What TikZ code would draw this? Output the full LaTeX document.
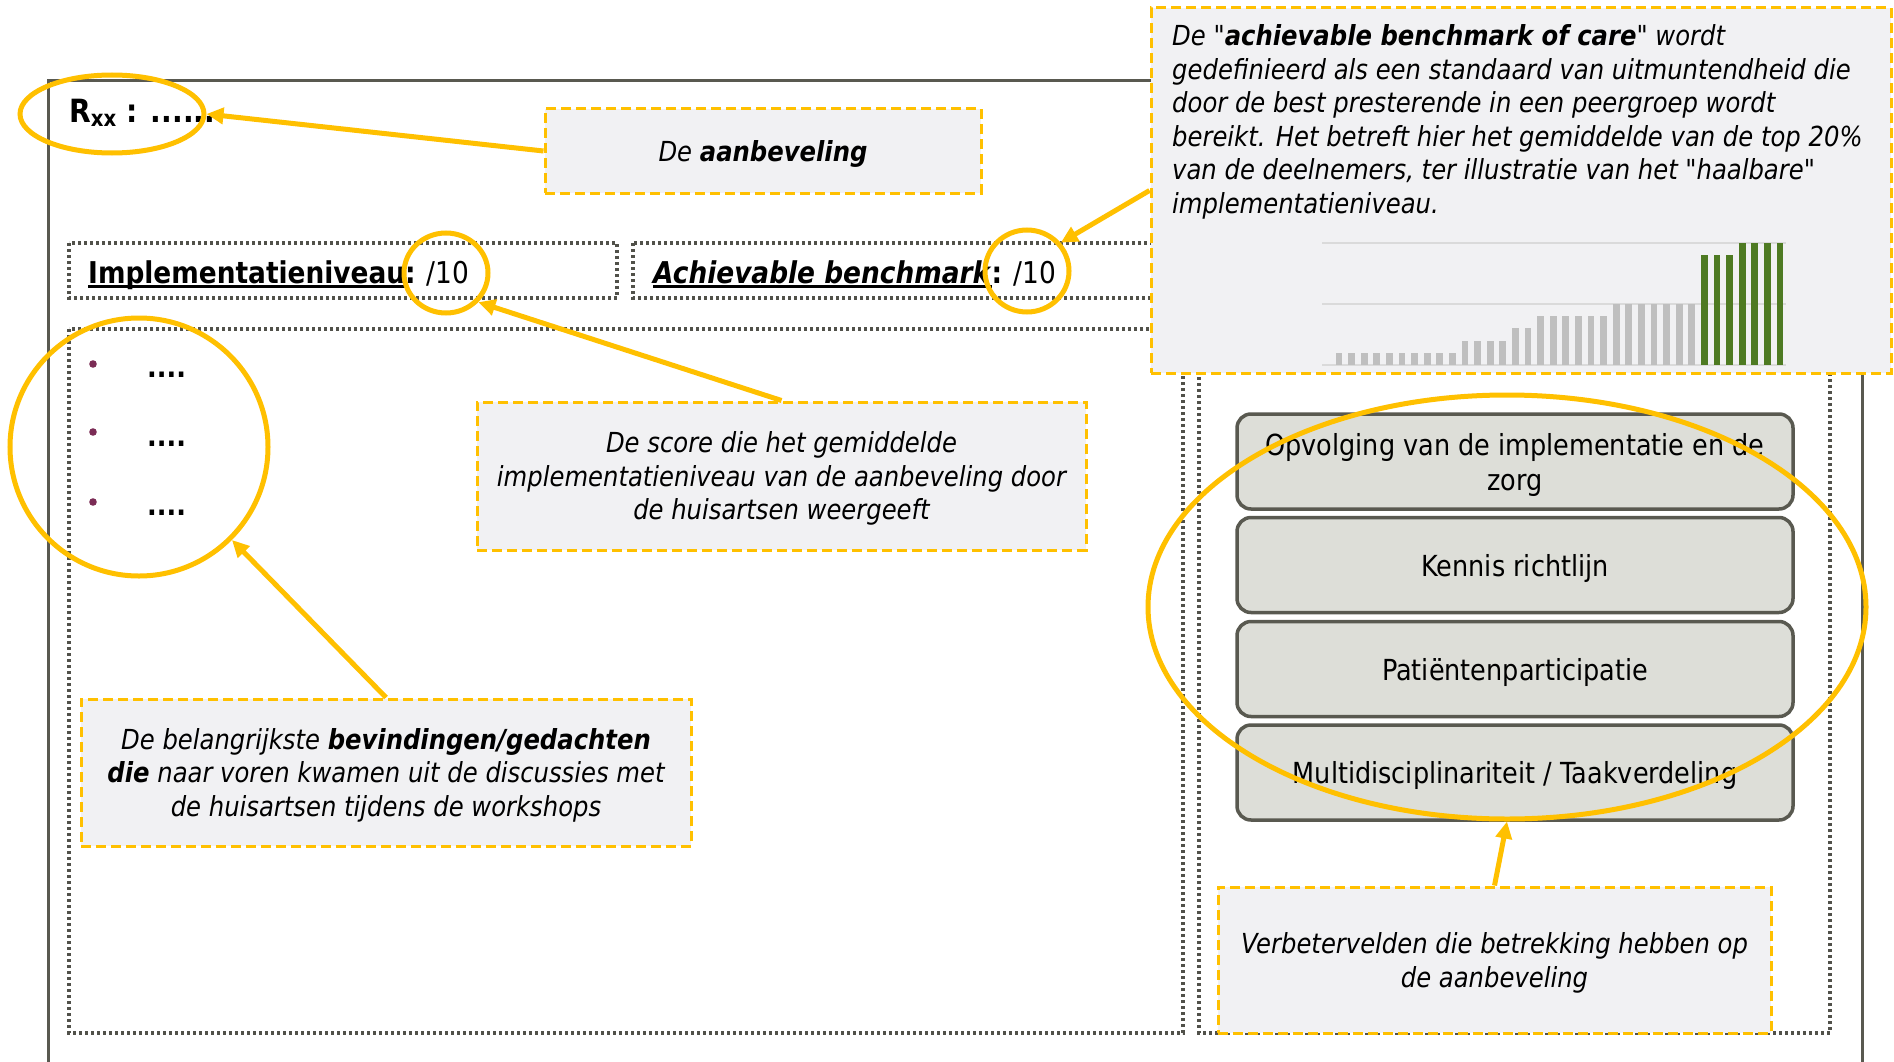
\documentclass[tikz,border=0pt]{standalone}
\usepackage{fontspec}
\setmainfont{DejaVu Sans}[FakeStretch=0.88, Ligatures=TeXOff]
\usetikzlibrary{arrows.meta,shapes.geometric}

\definecolor{gold}{HTML}{FFC000}
\definecolor{framegray}{HTML}{595950}
\definecolor{dotgray}{HTML}{51514A}
\definecolor{calloutfill}{HTML}{F1F1F3}
\definecolor{boxfill}{HTML}{DDDED8}
\definecolor{bargray}{HTML}{BFBFBF}
\definecolor{bargreen}{HTML}{4E7A22}
\definecolor{gridgray}{HTML}{DADADA}
\definecolor{bulletc}{HTML}{7B2C55}

\newcommand\calloutfont{\fontsize{27.6}{33.5}\selectfont\itshape}
\newcommand\areafont{\fontsize{29}{35}\selectfont}
\newcommand\headfont{\fontsize{30}{35}\selectfont}
\newcommand\ulword[1]{\setbox0\hbox{#1}\rlap{\rule[-4.5pt]{\wd0}{2.4pt}}\box0}

\tikzset{
  callout/.style={draw=gold, line width=3pt, dash pattern=on 10pt off 5pt,
    fill=calloutfill, inner sep=0pt, align=center, font=\calloutfont, text depth=0pt},
  dotbox/.style={draw=dotgray, line width=3.2pt, dash pattern=on 3pt off 3pt},
  areabox/.style={draw=framegray, line width=3.5pt, rounded corners=14pt,
    fill=boxfill, minimum width=556pt, minimum height=95pt, align=center,
    font=\areafont, inner sep=0pt, text depth=0pt},
  ring/.style={draw=gold, line width=5pt, ellipse, inner sep=0pt},
  pointer/.style={draw=gold, line width=5pt, -{Triangle[length=17pt,width=16pt]}},
  dots/.style={anchor=base west, inner sep=0pt, font=\areafont\bfseries},
}

\begin{document}
\begin{tikzpicture}[x=1pt, y=-1pt]
\useasboundingbox (0,0) rectangle (1894,1062);
\fill[white] (0,0) rectangle (1894,1062);

% outer frame, open at the bottom
\draw[framegray, line width=3pt] (48,1062) -- (48,81) -- (1862,81) -- (1862,1062);

% dotted panels
\draw[dotbox] (69,243) rectangle (617,298);
\draw[dotbox] (633,243) rectangle (1153,298);
\draw[dotbox] (69,329) rectangle (1183,1033);
\draw[dotbox] (1199,329) rectangle (1830,1033);

% title line
\node[anchor=base west, inner sep=0pt] (rtitle) at (69,123)
  {\fontsize{32}{38}\selectfont\bfseries R\textsubscript{xx} : ......};

% score headings
\node[anchor=base west, inner sep=0pt, font=\headfont] (impltxt) at (88,283)
  {\ulword{\textbf{Implementatieniveau}}\textbf{:} /10};
\node[anchor=base west, inner sep=0pt, font=\headfont] (benchtxt) at (653,283)
  {\ulword{\textbf{\itshape Achievable benchmark}}\textbf{:} /10};

% findings list
\fill[bulletc] (93,364) circle (3.8pt);
\fill[bulletc] (93,432) circle (3.8pt);
\fill[bulletc] (93,502) circle (3.8pt);
\node[dots] (item1) at (147,377) {....};
\node[dots] (item2) at (147,446) {....};
\node[dots] (item3) at (147,515) {....};

% improvement areas
\node[areabox] (opv) at (1515,461.5) {Opvolging van de implementatie en de\\zorg};
\node[areabox] (ken) at (1515,565) {Kennis richtlijn};
\node[areabox] (pat) at (1515,669) {Patiëntenparticipatie};
\node[areabox] (mul) at (1515,772.5) {Multidisciplinariteit / Taakverdeling};

% explanatory callouts
\node[callout, minimum width=436pt, minimum height=84pt] (aanb) at (763,151)
  {De \textbf{aanbeveling}};
\node[callout, minimum width=609pt, minimum height=148pt] (score) at (781.5,476)
  {De score die het gemiddelde\\implementatieniveau van de aanbeveling door\\de huisartsen weergeeft};
\node[callout, minimum width=610pt, minimum height=147pt] (find) at (386,772.5)
  {De belangrijkste \textbf{bevindingen/gedachten}\\\textbf{die} naar voren kwamen uit de discussies met\\de huisartsen tijdens de workshops};
\node[callout, minimum width=553pt, minimum height=146pt] (verb) at (1494.5,960)
  {Verbetervelden die betrekking hebben op\\de aanbeveling};
\node[callout, minimum width=740pt, minimum height=365pt] (bench) at (1521,190.5) {};
\node[anchor=north west, inner sep=0pt, align=left, font=\calloutfont] (benchdef) at (1172,24.5)
  {De "\textbf{achievable benchmark of care}" wordt\\
   gedefinieerd als een standaard van uitmuntendheid die\\
   door de best presterende in een peergroep wordt\\
   bereikt. Het betreft hier het gemiddelde van de top 20\%\\
   van de deelnemers, ter illustratie van het "haalbare"\\
   implementatieniveau.};

% small bar chart of participant scores
\foreach \yy in {243,304,365}
  \draw[gridgray, line width=2pt] (1322,\yy) -- (1786,\yy);
\foreach \h [count=\i from 0] in {1,1,1,1,1,1,1,1,1,1,2,2,2,2,3,3,4,4,4,4,4,4,5,5,5,5,5,5,5,9,9,9,10,10,10,10}{
  \ifnum\i<29 \def\barcol{bargray}\else\def\barcol{bargreen}\fi
  \fill[\barcol] (1339+12.6*\i-3.4,365) rectangle (1339+12.6*\i+3.4,365-12.2*\h);
}

% highlight rings
\node[ring, minimum width=184pt, minimum height=78pt] (rring) at (112,114) {};
\node[ring, minimum width=84pt, minimum height=80pt] (implring) at (446,273) {};
\node[ring, minimum width=84pt, minimum height=82pt] (benchring) at (1027,271) {};
\node[ring, minimum width=258pt, minimum height=258pt] (listring) at (139,447) {};
\node[ring, minimum width=718pt, minimum height=424pt] (areasring) at (1507,607) {};

% pointers
\draw[pointer] (aanb.west) -- (rring.east);
\draw[pointer] (score.north) -- (implring.-42);
\draw[pointer] (bench.west) -- (benchring.40);
\draw[pointer] (find.north) -- (listring.-45);
\draw[pointer] (verb.north) -- (areasring.south);
\end{tikzpicture}
\end{document}
